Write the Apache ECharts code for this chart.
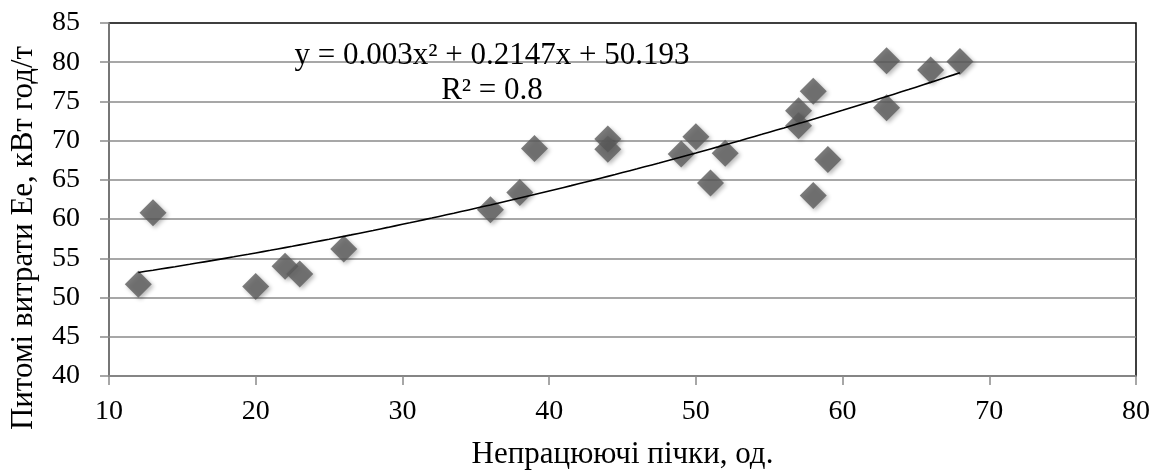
<!DOCTYPE html>
<html>
<head>
<meta charset="utf-8">
<script src="https://cdn.jsdelivr.net/npm/echarts@6/dist/echarts.min.js"></script>
<style>
  html, body { margin: 0; padding: 0; background: #fff; }
  #chart { width: 1164px; height: 476px; }
</style>
</head>
<body>
<div id="chart"></div>
<script>
// Idle kilns (units) vs specific energy use Ee (kWh/t)
const idleKilns = [12, 13, 20, 22, 23, 26, 36, 38, 39, 44, 44, 49, 50, 51, 52, 57, 57, 58, 58, 59, 63, 63, 66, 68];
const energyUse = [51.7, 60.8, 51.4, 54.0, 53.0, 56.2, 61.2, 63.4, 69.0, 70.2, 68.9, 68.3, 70.5, 64.6, 68.4, 73.8, 71.9, 76.3, 63.0, 67.6, 80.2, 74.2, 79.0, 80.1];

// Polynomial trend (2nd order) as printed on the chart
const trendCoef = { a: 0.003, b: 0.2147, c: 50.193 };
const trendLabel = ['y = 0.003x² + 0.2147x + 50.193', 'R² = 0.8'];

const xTitle = 'Непрацюючі пічки, од.';
const yTitle = 'Питомі витрати Ee, кВт год/т';

const xFrom = Math.min(...idleKilns), xTo = Math.max(...idleKilns);
const trendPoints = [];
for (let x = xFrom; x <= xTo; x += 0.5) {
  trendPoints.push([x, trendCoef.a * x * x + trendCoef.b * x + trendCoef.c]);
}
const points = idleKilns.map((x, i) => [x, energyUse[i]]);

const FONT = '"Liberation Serif", "Times New Roman", serif';
const GRID_GRAY = '#8a8a8a';

const chart = echarts.init(document.getElementById('chart'), null, { renderer: 'canvas' });
chart.setOption({
  animation: false,
  backgroundColor: '#fff',
  grid: {
    left: 109, right: 28, top: 23, bottom: 100,
    show: true, borderColor: '#000', borderWidth: 1.5, backgroundColor: 'transparent'
  },
  xAxis: {
    type: 'value', min: 10, max: 80, interval: 10,
    name: xTitle, nameLocation: 'middle', nameGap: 63,
    nameTextStyle: { fontFamily: FONT, fontSize: 31, color: '#000' },
    axisLine: { show: true, onZero: false, lineStyle: { color: GRID_GRAY, width: 1.5 } },
    axisTick: { show: true, inside: false, length: 9, lineStyle: { color: GRID_GRAY, width: 1.5 } },
    axisLabel: { fontFamily: FONT, fontSize: 28, color: '#000', margin: 22 },
    splitLine: { show: false }
  },
  yAxis: {
    type: 'value', min: 40, max: 85, interval: 5,
    axisLine: { show: true, onZero: false, lineStyle: { color: GRID_GRAY, width: 1.5 } },
    axisTick: { show: true, inside: false, length: 9, lineStyle: { color: GRID_GRAY, width: 1.5 } },
    axisLabel: { fontFamily: FONT, fontSize: 28, color: '#000', margin: 29 },
    splitLine: { show: true, showMaxLine: false, lineStyle: { color: GRID_GRAY, width: 1.5 } }
  },
  graphic: [
    {
      type: 'text', left: 8, top: 'middle',
      rotation: Math.PI / 2, x: 24, y: 218,
      style: { text: yTitle, font: '31px ' + FONT, fill: '#000', align: 'center', verticalAlign: 'middle' }
    },
    {
      type: 'text', x: 492, y: 56, z: 10,
      style: { text: trendLabel[0], font: '31px ' + FONT, fill: '#000', align: 'center', verticalAlign: 'middle' }
    },
    {
      type: 'text', x: 492, y: 91, z: 10,
      style: { text: trendLabel[1], font: '31px ' + FONT, fill: '#000', align: 'center', verticalAlign: 'middle' }
    }
  ],
  series: [
    {
      type: 'scatter',
      data: points,
      symbol: 'diamond',
      symbolSize: 27,
      itemStyle: {
        color: '#5b5b5b',
        shadowBlur: 4, shadowColor: 'rgba(0,0,0,0.35)', shadowOffsetX: 2, shadowOffsetY: 2
      },
      z: 3
    },
    {
      type: 'line',
      data: trendPoints,
      showSymbol: false,
      smooth: false,
      lineStyle: { color: '#000', width: 1.6 },
      z: 4
    }
  ]
});
</script>
</body>
</html>
